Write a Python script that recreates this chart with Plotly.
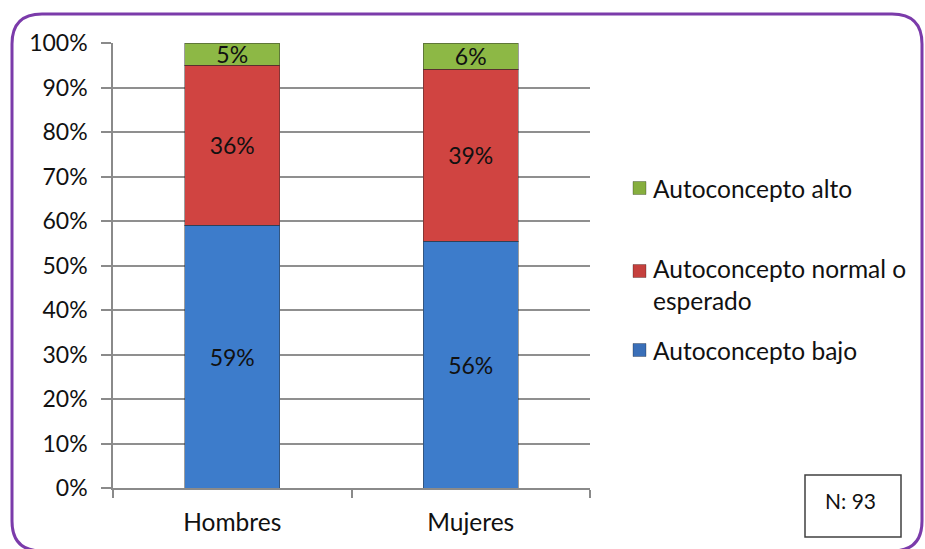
import plotly.graph_objects as go

# Survey groups and self-concept level shares (%)
categories = ["Hombres", "Mujeres"]
series_names = ["Autoconcepto bajo", "Autoconcepto normal o esperado", "Autoconcepto alto"]
legend_labels = ["Autoconcepto bajo", "Autoconcepto normal o<br>esperado", "Autoconcepto alto"]
bajo = [59, 56]
normal = [36, 39]
alto = [5, 6]
sample_note = "N: 93"
y_ticks = [0, 10, 20, 30, 40, 50, 60, 70, 80, 90, 100]

bar_colors = ["#3D7CCB", "#D04441", "#8DB845"]
legend_colors = ["#3A6FB8", "#C5403D", "#86AE3E"]
FONT = "Lato"
TXT = "#111111"

# plot-area geometry in pixels (used to place the paper-coordinate decorations)
W, H = 925, 549
L, R, T, B = 113, 335, 43, 61
PW, PH = W - L - R, H - T - B


def px(x):
    return (x - L) / PW


def py(y):
    return (H - B - y) / PH


fig = go.Figure()
for name, vals, col in zip(series_names, [bajo, normal, alto], bar_colors):
    fig.add_trace(go.Bar(
        x=categories, y=vals, name=name,
        marker=dict(color=col, line=dict(color="rgba(40,40,40,0.45)", width=1)),
        text=[f"{v}%" for v in vals], textposition="inside",
        insidetextanchor="middle", textangle=0,
        textfont=dict(family=FONT, size=23, color=TXT),
        showlegend=False, hoverinfo="skip",
    ))

shapes = []
annotations = []

# legend, top entry first
for i, (lab, col) in enumerate(reversed(list(zip(legend_labels, legend_colors)))):
    cy = [188, 271, 350][i]
    shapes.append(dict(type="rect", xref="paper", yref="paper",
                       x0=px(633), x1=px(646), y0=py(cy + 6.5), y1=py(cy - 6.5),
                       fillcolor=col, line=dict(color="rgba(0,0,0,0.35)", width=0.8)))
    ty = cy if "<br>" not in lab else cy + 13.5
    annotations.append(dict(xref="paper", yref="paper", x=px(651), y=py(ty),
                            xanchor="left", yanchor="middle", text=lab, showarrow=False,
                            align="left", font=dict(family=FONT, size=24.5, color=TXT)))

# sample size box
shapes.append(dict(type="rect", xref="paper", yref="paper",
                   x0=px(805), x1=px(901), y0=py(537), y1=py(475),
                   line=dict(color="#404040", width=1.5), fillcolor="white"))
annotations.append(dict(xref="paper", yref="paper", x=px(850), y=py(501),
                        xanchor="center", yanchor="middle", text=sample_note, showarrow=False,
                        font=dict(family=FONT, size=21, color=TXT)))

# rounded purple frame around the chart
x0, x1, y0, y1 = px(12), px(922), py(551), py(14)
rx, ry = 30 / PW, 30 / PH
frame = (f"M {x0},{y1 - ry} Q {x0},{y1} {x0 + rx},{y1} L {x1 - rx},{y1} "
         f"Q {x1},{y1} {x1},{y1 - ry} L {x1},{y0 + ry} Q {x1},{y0} {x1 - rx},{y0} "
         f"L {x0 + rx},{y0} Q {x0},{y0} {x0},{y0 + ry} Z")
shapes.append(dict(type="path", xref="paper", yref="paper", path=frame,
                   line=dict(color="#7B3BAA", width=3), layer="above"))

fig.update_layout(
    width=W, height=H,
    margin=dict(l=L, r=R, t=T, b=B),
    barmode="stack", barnorm="percent", bargap=0.6,
    plot_bgcolor="white", paper_bgcolor="white",
    uniformtext=dict(mode="show", minsize=23),
    shapes=shapes, annotations=annotations,
    font=dict(family=FONT, color=TXT),
)
fig.update_xaxes(
    showline=True, linecolor="#8A8A8A", linewidth=1.5,
    ticks="outside", tickson="boundaries", ticklen=8, tickcolor="#8A8A8A", tickwidth=1.5,
    ticklabelstandoff=12,
    tickfont=dict(family=FONT, size=24.5, color=TXT), showgrid=False,
)
fig.update_yaxes(
    range=[0, 100], tickvals=y_ticks, ticktext=[f"{v}%" for v in y_ticks],
    showline=True, linecolor="#8A8A8A", linewidth=1.5,
    ticks="outside", ticklen=10, tickcolor="#8A8A8A", tickwidth=1.5,
    ticklabelstandoff=9,
    showgrid=True, gridcolor="#8F8F8F", gridwidth=1.5, zeroline=False,
    tickfont=dict(family=FONT, size=23, color=TXT),
)

fig.write_html("out.html")
